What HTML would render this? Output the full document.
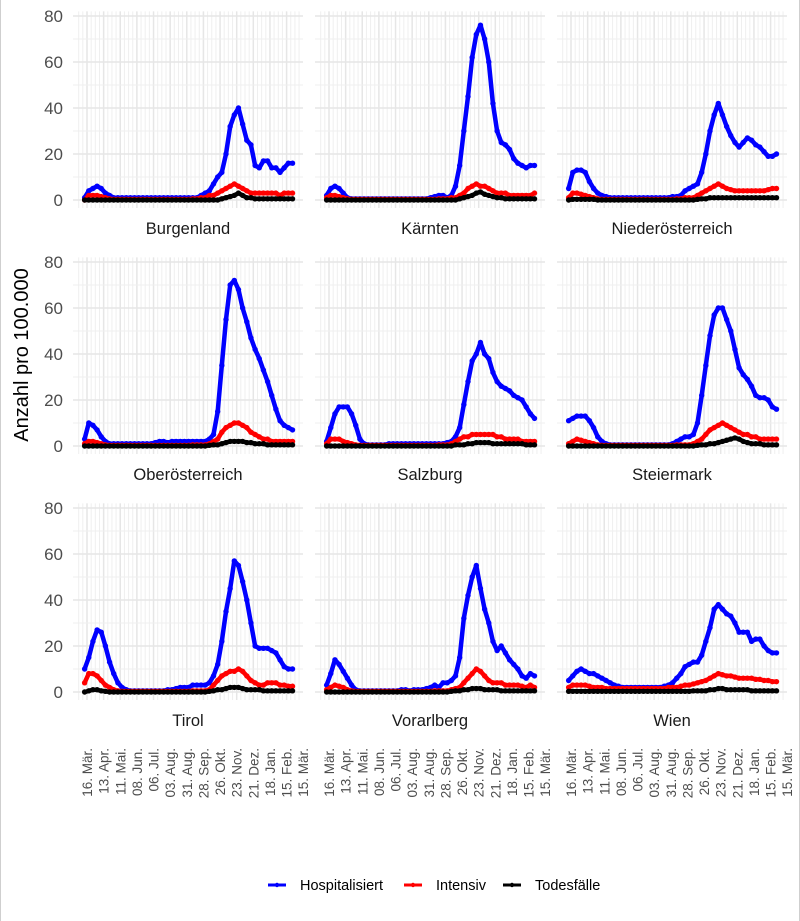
<!DOCTYPE html>
<html><head><meta charset="utf-8">
<style>
html,body{margin:0;padding:0;background:#fff;}
svg{display:block;font-family:"Liberation Sans",Arial,sans-serif;}
</style></head>
<body>
<svg id="chart" width="800" height="921" viewBox="0 0 800 921" xmlns="http://www.w3.org/2000/svg">
<rect x="0" y="0" width="800" height="921" fill="#fff"/>
<line x1="0.5" y1="0" x2="0.5" y2="921" stroke="#cfcfcf"/>
<line x1="799.5" y1="0" x2="799.5" y2="921" stroke="#cfcfcf"/>
<g id="grid"></g>
<g id="axes"></g>
<g id="series"></g>
<text x="0" y="0" transform="translate(28,355) rotate(-90)" text-anchor="middle" font-size="20" fill="#000">Anzahl pro 100.000</text>
<g>
  <g>
    <line x1="268" y1="885" x2="286" y2="885" stroke="#0000ff" stroke-width="3"/><circle cx="277" cy="885" r="2.2" fill="#0000ff"/>
    <text x="300" y="890" font-size="14.5" fill="#000">Hospitalisiert</text>
  </g>
  <g>
    <line x1="404" y1="885" x2="422" y2="885" stroke="#ff0000" stroke-width="3"/><circle cx="413" cy="885" r="2.2" fill="#ff0000"/>
    <text x="436" y="890" font-size="14.5" fill="#000">Intensiv</text>
  </g>
  <g>
    <line x1="503" y1="885" x2="521" y2="885" stroke="#000" stroke-width="3"/><circle cx="512" cy="885" r="2.2" fill="#000"/>
    <text x="535" y="890" font-size="14.5" fill="#000">Todesfälle</text>
  </g>
</g>
</svg>
<script>
const regions = ["Burgenland","Kärnten","Niederösterreich","Oberösterreich","Salzburg","Steiermark","Tirol","Vorarlberg","Wien"];
const xTickLabels = ["16. Mär.","13. Apr.","11. Mai.","08. Jun.","06. Jul.","03. Aug.","31. Aug.","28. Sep.","26. Okt.","23. Nov.","21. Dez.","18. Jan.","15. Feb.","15. Mär."];
const xTickDays = [0,28,56,84,112,140,168,196,224,252,280,308,336,364];
const yTicks = [0,20,40,60,80];
const yMinor = [10,30,50,70];
const firstDay = -4;
const stepDays = 7;

const hospBurgenland = [1,4,5,6,5,3,2,1,1,1, 1,1,1,1,1,1,1,1,1,1, 1,1,1,1,1,1,1,1,2,3, 4,7,10,12,20,32,37,40,33,26, 24,15,14,17,17,14,14,12,14,16, 16];
const intBurgenland = [0,2,2,2,1.5,1,0.5,0.3,0.3,0.3, 0.3,0.3,0.3,0.3,0.3,0.3,0.3,0.3,0.3,0.3, 0.3,0.3,0.3,0.3,0.3,0.3,0.5,0.5,1,1, 2,2,3,4,5,6,7,6,5,4, 3,3,3,3,3,3,3,2,3,3, 3];
const deathBurgenland = [0,0,0,0,0,0,0,0,0,0, 0,0,0,0,0,0,0,0,0,0, 0,0,0,0,0,0,0,0,0,0, 0,0,0,0.5,1,1.5,2,3,2,1, 1,0.5,0.5,0.5,0.5,0.5,0.5,0.5,0.5,0.5, 0.5];

const hospKaernten = [2,5,6,5,3,1,0.5,0.5,0.5,0.5, 0.5,0.5,0.5,0.5,0.5,0.5,0.5,0.5,0.5,0.5, 0.5,0.5,0.5,0.5,0.5,1,1.5,2,2,1, 2,6,15,30,45,62,72,76,70,60, 42,30,25,24,22,18,16,15,14,15, 15];
const intKaernten = [1,2,2,1.5,1,0.5,0.3,0.3,0.3,0.3, 0.3,0.3,0.3,0.3,0.3,0.3,0.3,0.3,0.3,0.3, 0.3,0.3,0.3,0.3,0.3,0.3,0.3,0.5,0.5,0.5, 1,1,2,3,5,6,7,6,6,5, 4,3,3,3,2,2,2,2,2,2, 3];
const deathKaernten = [0,0,0,0,0,0,0,0,0,0, 0,0,0,0,0,0,0,0,0,0, 0,0,0,0,0,0,0,0,0,0, 0,0,0.5,1,1.5,2,3,3.5,2.5,2, 1.5,1,1,0.5,0.5,0.5,0.5,0.5,0.5,0.5, 0.5];

const hospNiederoesterreich = [5,12,13,13,12,8,5,3,2,1.5, 1,1,1,1,1,1,1,1,1,1, 1,1,1,1,1,1.5,1.5,2,4,5, 6,7,12,20,30,37,42,37,32,28, 25,23,25,27,26,24,23,21,19,19, 20];
const intNiederoesterreich = [1,3,3,2.5,2,1.5,1,0.5,0.3,0.3, 0.3,0.3,0.3,0.3,0.3,0.3,0.3,0.3,0.3,0.3, 0.3,0.3,0.3,0.3,0.3,0.3,0.5,0.5,1,1, 1,2,3,4,5,6,7,6,5,4.5, 4,4,4,4,4,4,4,4,4.5,5, 5];
const deathNiederoesterreich = [0,0.3,0.3,0.3,0.3,0.3,0.3,0,0,0, 0,0,0,0,0,0,0,0,0,0, 0,0,0,0,0,0,0,0,0,0, 0,0.3,0.5,0.5,1,1,1,1,1,1, 1,1,1,1,1,1,1,1,1,1, 1];

const hospOberoesterreich = [3,10,9,7,4,2,1,1,1,1, 1,1,1,1,1,1,1,1.5,2,2, 1.5,2,2,2,2,2,2,2,2,2, 3,5,15,35,55,70,72,68,60,54, 47,42,38,33,28,22,16,11,9,8, 7];
const intOberoesterreich = [1,2,2,1.5,1,0.5,0.3,0.3,0.3,0.3, 0.3,0.3,0.3,0.3,0.3,0.3,0.3,0.3,0.3,0.3, 0.3,0.3,0.3,0.3,0.3,0.3,0.5,0.5,0.5,0.5, 1,2,3,6,8,9,10,10,9,8, 6,5,4,3,3,2,2,2,2,2, 2];
const deathOberoesterreich = [0,0,0,0,0,0,0,0,0,0, 0,0,0,0,0,0,0,0,0,0, 0,0,0,0,0,0,0,0,0,0, 0.3,0.5,0.5,1,1.5,2,2,2,2,1.5, 1.5,1,1,1,0.5,0.5,0.5,0.5,0.5,0.5, 0.5];

const hospSalzburg = [2,8,14,17,17,17,14,9,3,1, 0.5,0.5,0.5,0.5,0.5,1,1,1,1,1, 1,1,1,1,1,1,1,1,1,1.5, 2,4,8,18,28,37,40,45,40,38, 32,28,26,25,24,22,21,20,17,14, 12];
const intSalzburg = [1,3,3,3,2,1.5,1,0.5,0.3,0.3, 0.3,0.3,0.3,0.3,0.3,0.3,0.3,0.3,0.3,0.3, 0.3,0.3,0.3,0.3,0.3,0.3,0.3,0.5,0.5,0.5, 1,2,3,4,4,5,5,5,5,5, 5,4,4,3,3,3,3,2,2,2, 2];
const deathSalzburg = [0,0,0,0,0,0,0,0,0,0, 0,0,0,0,0,0,0,0,0,0, 0,0,0,0,0,0,0,0,0,0, 0,0.5,0.5,0.5,1,1,1.5,1.5,1.5,1.5, 1,1,1,1,1,1,1,1,0.5,0.5, 0.5];

const hospSteiermark = [11,12,13,13,13,11,8,4,2,1, 0.5,0.5,0.5,0.5,0.5,0.5,0.5,0.5,0.5,0.5, 0.5,0.5,0.5,0.5,0.5,1,2,3,4,4, 5,10,22,35,48,57,60,60,55,50, 42,34,31,29,26,22,21,21,20,17, 16];
const intSteiermark = [1,2,3,2.5,2,1.5,1,0.5,0.3,0.3, 0.3,0.3,0.3,0.3,0.3,0.3,0.3,0.3,0.3,0.3, 0.3,0.3,0.3,0.3,0.3,0.3,0.5,0.5,0.5,0.5, 1,2,3,5,7,8,9,10,9,8, 7,6,5,5,4,4,3,3,3,3, 3];
const deathSteiermark = [0,0,0,0,0,0,0,0,0,0, 0,0,0,0,0,0,0,0,0,0, 0,0,0,0,0,0,0,0,0,0, 0,0.3,0.5,0.5,1,1,1.5,2,2.5,3, 3.5,3,2,1.5,1,1,1,0.5,0.5,0.5, 0.5];

const hospTirol = [10,15,22,27,26,20,13,8,4,2, 1,0.5,0.5,0.5,0.5,0.5,0.5,0.5,0.5,0.5, 1,1,1.5,2,2,2,3,3,3,3, 4,7,12,22,35,45,57,55,48,40, 30,20,19,19,19,18,17,14,11,10, 10];
const intTirol = [4,8,8,7,5,3,2,1,0.5,0.3, 0.3,0.3,0.3,0.3,0.3,0.3,0.3,0.3,0.3,0.3, 0.3,0.3,0.3,0.3,0.3,0.3,0.5,0.5,0.5,0.5, 1,3,5,7,8,9,9,10,9,7, 5,4,3,3,4,4,4,3,3,2.5, 2.5];
const deathTirol = [0,0.5,1,1,0.5,0.3,0,0,0,0, 0,0,0,0,0,0,0,0,0,0, 0,0,0,0,0,0,0,0,0,0, 0.3,0.5,1,1,1.5,2,2,2,1.5,1, 1,1,1,0.5,0.5,0.5,0.5,0.5,0.5,0.5, 0.5];

const hospVorarlberg = [3,8,14,12,9,6,3,1,0.5,0.5, 0.5,0.5,0.5,0.5,0.5,0.5,0.5,0.5,1,1, 0.5,1,1,1,1.5,2,3,2,4,4, 5,7,15,32,42,50,55,45,36,30, 22,18,20,17,14,12,10,7,6,8, 7];
const intVorarlberg = [1,2,3,2.5,2,1,0.5,0.3,0.3,0.3, 0.3,0.3,0.3,0.3,0.3,0.3,0.3,0.3,0.3,0.3, 0.3,0.3,0.3,0.3,0.3,0.3,0.5,0.5,0.5,0.5, 1,1.5,2,4,6,8,10,9,7,5, 4,4,4,3,3,3,3,2.5,2,3, 2];
const deathVorarlberg = [0,0,0,0,0,0,0,0,0,0, 0,0,0,0,0,0,0,0,0,0, 0,0,0,0,0,0,0,0,0,0, 0.3,0.5,0.5,1,1,1.5,1.5,1.5,1,1, 1,1,0.5,0.5,0.5,0.5,0.5,0.5,0.5,0.5, 0.5];

const hospWien = [5,7,9,10,9,8,8,7,6,5, 4,3,2.5,2,2,2,2,2,2,2, 2,2,2,2.5,3,4,6,8,11,12, 13,13,16,22,28,36,38,36,34,33, 30,26,26,26,22,23,23,20,18,17, 17];
const intWien = [2,3,3,3,3,2.5,2,2,2,1.5, 1.5,1.5,1.5,1.5,1.5,1.5,1.5,1.5,1.5,1.5, 1.5,1.5,1.5,1.5,2,2,2,2.5,3,3, 3.5,4,4.5,5,6,7,8,7.5,7,7, 6.5,6,6,6,6,5.5,5.5,5,5,4.5, 4.5];
const deathWien = [0.3,0.3,0.3,0.3,0.3,0.3,0.3,0.3,0.3,0.3, 0.3,0.3,0.3,0.3,0.3,0.3,0.3,0.3,0.3,0.3, 0.3,0.3,0.3,0.3,0.3,0.3,0.3,0.3,0.3,0.3, 0.5,0.5,0.5,0.5,1,1,1.5,1.5,1,1, 1,1,1,1,0.5,0.5,0.5,0.5,0.5,0.5, 0.5];

const hospSeries = [hospBurgenland,hospKaernten,hospNiederoesterreich,hospOberoesterreich,hospSalzburg,hospSteiermark,hospTirol,hospVorarlberg,hospWien];
const intSeries = [intBurgenland,intKaernten,intNiederoesterreich,intOberoesterreich,intSalzburg,intSteiermark,intTirol,intVorarlberg,intWien];
const deathSeries = [deathBurgenland,deathKaernten,deathNiederoesterreich,deathOberoesterreich,deathSalzburg,deathSteiermark,deathTirol,deathVorarlberg,deathWien];

const NS = "http://www.w3.org/2000/svg";
const PX_PER_DAY = 0.594, COL_W = 242, ROW_H = 246;
function xScale(day, col){ return 87 + col*COL_W + day*PX_PER_DAY; }
function yScale(v, row){ return 200 + row*ROW_H - v*2.3; }
function mk(tag, attrs, parent){ const e=document.createElementNS(NS,tag); for(const k in attrs) e.setAttribute(k, attrs[k]); parent.appendChild(e); return e; }

const grid = document.getElementById('grid');
const axes = document.getElementById('axes');
const series = document.getElementById('series');

regions.forEach((name, i) => {
  const col = i % 3, row = Math.floor(i / 3);
  const px0 = 73 + col*COL_W, px1 = px0 + 230;
  const py0 = yScale(82, row), py1 = yScale(-3.5, row);
  const panel = mk('g', {}, grid);
  
  
  for (let d = -14; d <= 378; d += 7) {
    const x = xScale(d, col);
    if (x < px0 || x > px1) continue;
    mk('line', {x1:x, y1:py0, x2:x, y2:py1, stroke:'#efefef', 'stroke-width':1}, panel);
  }
  xTickDays.forEach(d => {
    const x = xScale(d, col);
    if (x > px1) return;
    mk('line', {x1:x, y1:py0, x2:x, y2:py1, stroke:'#e6e6e6', 'stroke-width':1.5}, panel);
  });
  yMinor.forEach(v => mk('line', {x1:px0, y1:yScale(v,row), x2:px1, y2:yScale(v,row), stroke:'#efefef', 'stroke-width':1}, panel));
  yTicks.forEach(v => mk('line', {x1:px0, y1:yScale(v,row), x2:px1, y2:yScale(v,row), stroke:'#e6e6e6', 'stroke-width':1.6}, panel));

  if (col === 0) {
    yTicks.forEach(v => {
      const t = mk('text', {x:63, y:yScale(v,row)+6, 'text-anchor':'end', 'font-size':17, fill:'#4d4d4d'}, axes);
      
      
      t.textContent = v;
    });
  }
  const s = mk('text', {x:(px0+px1)/2, y:yScale(0,row)+34, 'text-anchor':'middle', 'font-size':16.5, fill:'#1a1a1a'}, axes);
  
  
  s.textContent = name;
  if (row === 2) {
    xTickLabels.forEach((lab, k) => {
      const x = xScale(xTickDays[k], col) + 5;
      const t = mk('text', {x:0, y:0, transform:'translate('+x+',748) rotate(-90)', 'text-anchor':'end', 'font-size':13.5, fill:'#4d4d4d'}, axes);
      
      
      t.textContent = lab;
    });
  }
  const sets = [[hospSeries[i], '#0000ff', 'hospitalisiert'], [intSeries[i], '#ff0000', 'intensiv'], [deathSeries[i], '#000000', 'todesfaelle']];
  sets.forEach(([vals, color, key]) => {
    const g = mk('g', {}, series);
    
    
    const pts = vals.map((v, j) => xScale(firstDay + j*stepDays, col).toFixed(1) + ',' + yScale(v, row).toFixed(1)).join(' ');
    mk('polyline', {points:pts, fill:'none', stroke:color, 'stroke-width':4.5, 'stroke-linejoin':'round', 'stroke-linecap':'round'}, g);
    vals.forEach((v, j) => {
      const c = mk('circle', {cx:xScale(firstDay + j*stepDays, col), cy:yScale(v, row), r:2.7, fill:color}, g);
      
      
    });
  });
});
</script>
</body></html>
